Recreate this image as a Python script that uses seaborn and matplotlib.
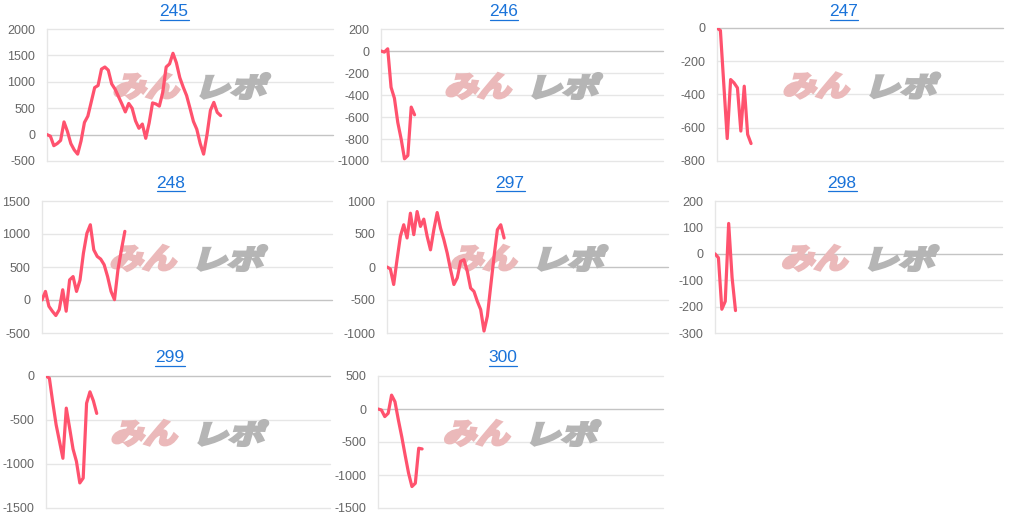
import numpy as np
import pandas as pd
import matplotlib
matplotlib.use("Agg")
import matplotlib.pyplot as plt
import seaborn as sns
from matplotlib.textpath import TextPath
from matplotlib.font_manager import FontProperties
from matplotlib.patches import PathPatch
from matplotlib.path import Path
from matplotlib.lines import Line2D

# ---- data (cumulative result per trade) ----
titles = ["245", "246", "247", "248", "297", "298", "299", "300"]

s245 = [0, -30, -210, -170, -110, 240, 60, -170, -290, -370, -120, 230, 350, 620, 890,
        930, 1240, 1280, 1220, 960, 860, 720, 580, 430, 590, 500, 260, 120, 200, -70,
        220, 600, 580, 540, 800, 1280, 1340, 1540, 1360, 1080, 900, 740, 500, 250, 100,
        -170, -370, 0, 460, 610, 420, 360]
s246 = [0, -10, 20, -330, -430, -650, -800, -980, -950, -510, -580]
s247 = [0, -15, -340, -665, -310, -330, -360, -620, -350, -640, -695]
s248 = [0, 130, -95, -170, -235, -145, 155, -170, 305, 355, 130, 300, 710, 1010, 1140,
        760, 660, 620, 535, 355, 130, 5, 460, 760, 1040]
s297 = [0, -30, -265, 110, 465, 640, 440, 815, 490, 840, 615, 725, 465, 260, 565, 825,
        590, 415, 210, -40, -265, -165, 85, 110, -65, -320, -370, -520, -645, -970, -745,
        -290, 160, 565, 640, 440]
s298 = [0, -15, -210, -180, 115, -90, -215]
s299 = [0, -25, -300, -555, -745, -935, -365, -595, -830, -970, -1215, -1160, -310,
        -180, -280, -425]
s300 = [0, -15, -115, -65, 210, 110, -165, -420, -700, -970, -1175, -1125, -595, -605]
series = [s245, s246, s247, s248, s297, s298, s299, s300]

yticks = [
    [-500, 0, 500, 1000, 1500, 2000],
    [-1000, -800, -600, -400, -200, 0, 200],
    [-800, -600, -400, -200, 0],
    [-500, 0, 500, 1000, 1500],
    [-1000, -500, 0, 500, 1000],
    [-300, -200, -100, 0, 100, 200],
    [-1500, -1000, -500, 0],
    [-1500, -1000, -500, 0, 500],
]
N_AXIS = 85  # number of slots on the shared x axis

# ---- layout (pixels, origin top-left) ----
W, H = 1011, 518
rects = [(47, 29, 333, 161), (381, 29, 663, 161), (717, 28, 1003, 161),
         (42, 201, 332, 333), (387, 201, 668, 333), (715, 201, 1002, 333),
         (46, 376, 330, 508), (378, 376, 663, 508)]
title_pos = [(174, 12), (504, 12), (844, 12),
             (171, 183), (510, 183), (842, 183),
             (170, 358), (503, 358)]

LINE = "#ff526e"
GRID = "#e6e6e6"
ZERO = "#c4c4c4"
LINK = "#1a73d9"

sns.set_style("white")
plt.rcParams["font.family"] = ["Liberation Sans", "DejaVu Sans"]

fig = plt.figure(figsize=(W / 100, H / 100), dpi=100)

wm_font = FontProperties(family="Noto Sans CJK JP", weight="bold")


def add_logo_part(ax, text, left, top, w, h, color):
    tp = TextPath((0, 0), text, size=40, prop=wm_font)
    v = tp.vertices
    mn, mx = v.min(axis=0), v.max(axis=0)
    nx = (v[:, 0] - mn[0]) / (mx[0] - mn[0])
    ny = (v[:, 1] - mn[1]) / (mx[1] - mn[1])
    slant = np.tan(np.radians(14))
    xp = left + 1.5 + nx * (w - 3 - h * slant) + ny * h * slant
    yp = top + h - 1.5 - ny * (h - 3)
    verts = np.column_stack([xp / W, 1 - yp / H])
    patch = PathPatch(Path(verts, tp.codes), facecolor=color, edgecolor=color,
                      linewidth=2.2, joinstyle="miter",
                      transform=fig.transFigure, zorder=1, clip_on=False)
    ax.add_patch(patch)


def watermark(ax, l, t, r, b):
    cx = (l + r) / 2
    cy = (t + b) / 2 - 9
    add_logo_part(ax, "みん", cx - 80, cy - 14, 75, 28, "#ebb9ba")
    add_logo_part(ax, "レポ", cx + 2, cy - 14, 80, 28, "#b5b5b5")


title_texts = []
for i, vals in enumerate(series):
    l, t, r, b = rects[i]
    ax = fig.add_axes([l / W, 1 - b / H, (r - l) / W, (b - t) / H])
    df = pd.DataFrame({"n": np.arange(len(vals)), "v": vals})
    sns.lineplot(data=df, x="n", y="v", ax=ax, color=LINE, linewidth=2.3,
                 zorder=3, solid_joinstyle="round", solid_capstyle="round")
    ax.set_xlim(0, N_AXIS - 1)
    ax.set_ylim(yticks[i][0], yticks[i][-1])
    ax.set_yticks(yticks[i])
    ax.set_yticklabels([str(v) for v in yticks[i]])
    ax.set_xticks([])
    ax.set_xlabel("")
    ax.set_ylabel("")
    for yv in yticks[i]:
        ax.axhline(yv, color=ZERO if yv == 0 else GRID, lw=1.0, zorder=0.5,
                   clip_on=False)
    for s in ["top", "right", "bottom"]:
        ax.spines[s].set_visible(False)
    ax.spines["left"].set_color(GRID)
    ax.spines["left"].set_linewidth(1.0)
    ax.tick_params(axis="y", length=7, width=1.0, color=GRID, pad=1.5,
                   labelcolor="#666666", labelsize=9)
    watermark(ax, l, t, r, b)

    tx, ty = title_pos[i]
    txt = fig.text(tx / W, 1 - ty / H, titles[i], ha="center", va="center",
                   color=LINK, fontsize=12.5)
    title_texts.append(txt)

# underline the titles (they are links)
fig.canvas.draw()
rend = fig.canvas.get_renderer()
for txt in title_texts:
    bb = txt.get_window_extent(renderer=rend)
    y0 = bb.y0 - 0.5
    fig.add_artist(Line2D([bb.x0 / W, bb.x1 / W], [y0 / H, y0 / H],
                          transform=fig.transFigure, color=LINK, lw=0.9))

fig.savefig("out.png", dpi=100)
